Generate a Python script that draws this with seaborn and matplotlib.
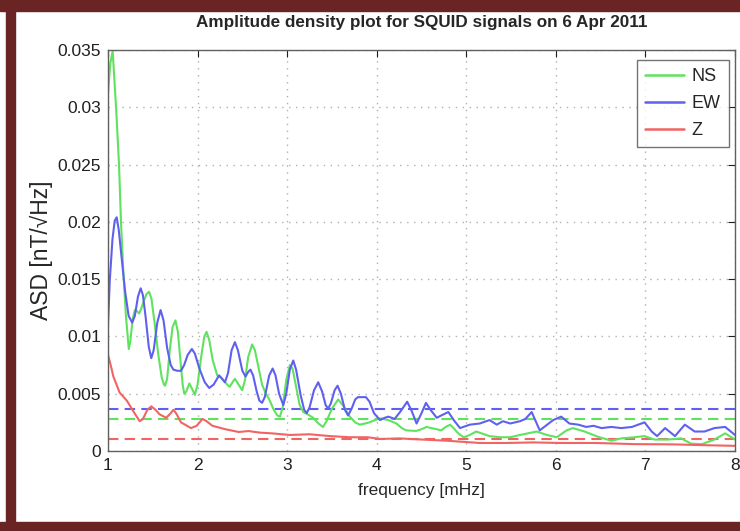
import matplotlib
matplotlib.use("Agg")
import matplotlib.pyplot as plt
import seaborn as sns
import pandas as pd
from matplotlib.patches import Rectangle

# ---------------- data ----------------
ns_f = [1.0, 1.025, 1.052, 1.09, 1.123, 1.145, 1.17, 1.20, 1.232, 1.25,
        1.275, 1.30, 1.325, 1.347, 1.37, 1.40, 1.43, 1.458, 1.485, 1.52,
        1.56, 1.60, 1.625, 1.638, 1.66, 1.69, 1.72, 1.753, 1.78, 1.81,
        1.835, 1.852, 1.875, 1.908, 1.94, 1.97, 2.0, 2.04, 2.075, 2.10,
        2.13, 2.17, 2.22, 2.26, 2.295, 2.33, 2.358, 2.39, 2.417, 2.45,
        2.498, 2.53, 2.565, 2.609, 2.64, 2.68, 2.72, 2.756, 2.80, 2.85,
        2.89, 2.92, 2.95, 2.99, 3.03, 3.06, 3.10, 3.14, 3.18, 3.23,
        3.29, 3.35, 3.40, 3.44, 3.50, 3.57, 3.63, 3.70, 3.76, 3.81,
        3.87, 3.92, 3.98, 4.04, 4.13, 4.22, 4.28, 4.33, 4.44, 4.50,
        4.556, 4.61, 4.67, 4.72, 4.77, 4.82, 4.87, 4.91, 4.97, 5.04,
        5.11, 5.26, 5.38, 5.49, 5.60, 5.785, 5.90, 6.01, 6.12, 6.19,
        6.32, 6.47, 6.62, 6.73, 6.88, 6.99, 7.10, 7.25, 7.40, 7.51,
        7.63, 7.77, 7.89, 8.0]
ns_v = [0.0312, 0.0338, 0.0349, 0.0300, 0.0250, 0.0200, 0.0158, 0.0118, 0.0089, 0.0096,
        0.0115, 0.0123, 0.0122, 0.0120, 0.0124, 0.0131, 0.0137, 0.0139, 0.0133, 0.0112,
        0.0085, 0.0064, 0.0058, 0.0057, 0.0063, 0.0088, 0.0108, 0.0114, 0.0104, 0.0078,
        0.0057, 0.0050, 0.0052, 0.0059, 0.0054, 0.0049, 0.0058, 0.0082, 0.0100, 0.0104,
        0.0097, 0.0079, 0.0066, 0.0064, 0.0061, 0.0058, 0.0056, 0.0060, 0.0063, 0.0059,
        0.0053, 0.0062, 0.0082, 0.0093, 0.0088, 0.0073, 0.0058, 0.0051, 0.0045, 0.0036,
        0.0031, 0.0030, 0.0038, 0.0062, 0.0075, 0.0072, 0.0056, 0.0040, 0.0034, 0.0032,
        0.0029, 0.0024, 0.0021, 0.0026, 0.0037, 0.0045, 0.0039, 0.0030, 0.0025, 0.0023,
        0.0024, 0.0025, 0.0027, 0.00285, 0.0027, 0.0024, 0.0020, 0.0018, 0.00175, 0.0019,
        0.0021, 0.0020, 0.0019, 0.0018, 0.0021, 0.0023, 0.0019, 0.00154, 0.0012, 0.0014,
        0.0017, 0.0013, 0.0012, 0.0012, 0.0014, 0.0017, 0.0014, 0.0012, 0.0018, 0.0020,
        0.0017, 0.00124, 0.0009, 0.0011, 0.0012, 0.0013, 0.0010, 0.0010, 0.0011, 0.00064,
        0.0006, 0.0010, 0.00154, 0.0010]

ew_f = [1.0, 1.02, 1.05, 1.075, 1.097, 1.12, 1.15, 1.19, 1.23, 1.27,
        1.30, 1.335, 1.365, 1.39, 1.42, 1.455, 1.483, 1.51, 1.55, 1.587,
        1.62, 1.66, 1.70, 1.73, 1.775, 1.815, 1.85, 1.89, 1.937, 1.97,
        2.02, 2.08, 2.13, 2.18, 2.24, 2.275, 2.306, 2.34, 2.38, 2.417,
        2.45, 2.50, 2.535, 2.565, 2.59, 2.62, 2.66, 2.69, 2.72, 2.75,
        2.80, 2.838, 2.87, 2.91, 2.957, 2.99, 3.03, 3.068, 3.10, 3.15,
        3.19, 3.218, 3.25, 3.30, 3.347, 3.39, 3.43, 3.459, 3.49, 3.53,
        3.563, 3.60, 3.645, 3.68, 3.72, 3.76, 3.79, 3.85, 3.88, 3.92,
        3.97, 4.036, 4.09, 4.13, 4.20, 4.27, 4.34, 4.39, 4.445, 4.50,
        4.55, 4.60, 4.67, 4.72, 4.80, 4.86, 4.93, 5.04, 5.15, 5.26,
        5.34, 5.41, 5.49, 5.60, 5.66, 5.73, 5.82, 5.97, 6.06, 6.15,
        6.25, 6.34, 6.42, 6.51, 6.62, 6.73, 6.85, 6.99, 7.07, 7.13,
        7.22, 7.33, 7.44, 7.55, 7.66, 7.77, 7.89, 8.0]
ew_v = [0.0110, 0.0149, 0.0185, 0.0201, 0.0204, 0.0193, 0.0170, 0.0140, 0.0118, 0.0112,
        0.0118, 0.0135, 0.0142, 0.0136, 0.0117, 0.0091, 0.0081, 0.0088, 0.0112, 0.0123,
        0.0114, 0.0090, 0.0075, 0.0071, 0.0070, 0.0070, 0.0075, 0.0084, 0.0089, 0.0085,
        0.0072, 0.0060, 0.0055, 0.0058, 0.0066, 0.0063, 0.0060, 0.0068, 0.0088, 0.0095,
        0.0088, 0.0070, 0.0065, 0.0069, 0.0071, 0.0066, 0.0052, 0.0044, 0.0042, 0.0047,
        0.0066, 0.0072, 0.0066, 0.0050, 0.0040, 0.0050, 0.0071, 0.0079, 0.0071, 0.0049,
        0.0036, 0.0033, 0.0038, 0.0053, 0.0060, 0.0052, 0.0040, 0.0037, 0.0042, 0.0053,
        0.0057, 0.0050, 0.0036, 0.0031, 0.0037, 0.0045, 0.0047, 0.0047, 0.0047, 0.0043,
        0.0033, 0.0027, 0.0029, 0.0030, 0.0028, 0.0035, 0.0043, 0.0035, 0.0024, 0.0033,
        0.0042, 0.0036, 0.0029, 0.0031, 0.0034, 0.0027, 0.0020, 0.0023, 0.0024, 0.0027,
        0.0023, 0.0026, 0.0024, 0.0026, 0.0028, 0.0034, 0.0018, 0.0027, 0.0030, 0.0024,
        0.0023, 0.0021, 0.0022, 0.0020, 0.0021, 0.0020, 0.0021, 0.0025, 0.0017, 0.0013,
        0.0020, 0.0013, 0.0023, 0.0017, 0.0017, 0.0020, 0.0021, 0.0014]

z_f = [1.0, 1.03, 1.06, 1.13, 1.21, 1.28, 1.354, 1.39, 1.44, 1.483,
       1.53, 1.576, 1.65, 1.70, 1.73, 1.76, 1.815, 1.926, 1.99, 2.055,
       2.10, 2.166, 2.31, 2.46, 2.57, 2.70, 2.83, 3.03, 3.25, 3.48,
       3.70, 3.90, 4.04, 4.25, 4.45, 4.78, 5.15, 5.45, 5.75, 6.05,
       6.45, 6.88, 7.3, 7.7, 8.0]
z_v = [0.0084, 0.0075, 0.0065, 0.0051, 0.0044, 0.0035, 0.0026, 0.0028, 0.0036, 0.0039,
       0.0036, 0.0032, 0.0029, 0.0033, 0.0036, 0.0033, 0.0025, 0.0020, 0.0022, 0.0028,
       0.0026, 0.0022, 0.0019, 0.00166, 0.00174, 0.0016, 0.00154, 0.0014, 0.00146, 0.0013,
       0.0012, 0.0012, 0.00105, 0.0011, 0.00102, 0.0009, 0.0007, 0.0007, 0.00075, 0.0007,
       0.0007, 0.0006, 0.00058, 0.0005, 0.00045]

series_names = ["NS", "EW", "Z"]
mean_levels = [0.0028, 0.0037, 0.00105]   # dashed horizontal lines (NS, EW, Z)

x_ticks = [1, 2, 3, 4, 5, 6, 7, 8]
y_ticks = [0, 0.005, 0.01, 0.015, 0.02, 0.025, 0.03, 0.035]
y_tick_labels = ["0", "0.005", "0.01", "0.015", "0.02", "0.025", "0.03", "0.035"]

title = "Amplitude density plot for SQUID signals on 6 Apr 2011"
x_label = "frequency [mHz]"
y_label = "ASD [nT/\u221aHz]"

colors = {"NS": "#5fe35f", "EW": "#6060f0", "Z": "#f06464"}

# ---------------- build long table ----------------
frames = []
for name, fs, vs in zip(series_names, [ns_f, ew_f, z_f], [ns_v, ew_v, z_v]):
    frames.append(pd.DataFrame({"freq": fs, "asd": vs, "series": name}))
df = pd.concat(frames, ignore_index=True)

# ---------------- plotting ----------------
sns.set_style("white")
plt.rcParams["font.family"] = ["Liberation Sans", "DejaVu Sans"]

fig = plt.figure(figsize=(7.40, 5.31), dpi=100)
ax = fig.add_axes([108 / 740, 80 / 531, 627 / 740, 401 / 531])

sns.lineplot(data=df, x="freq", y="asd", hue="series", hue_order=series_names,
             palette=colors, estimator=None, sort=False, linewidth=1.5, ax=ax)

for name, lvl in zip(series_names, mean_levels):
    ax.axhline(lvl, color=colors[name], linestyle=(0, (5, 3)), linewidth=1.5, zorder=1)

ax.set_xlim(1, 8)
ax.set_ylim(0, 0.035)
ax.set_xticks(x_ticks)
ax.set_xticklabels([str(t) for t in x_ticks])
ax.set_yticks(y_ticks)
ax.set_yticklabels(y_tick_labels)

ax.grid(True, linestyle=(0, (1, 4)), color="#b0b0b0", linewidth=1.0)
ax.tick_params(direction="in", length=5, width=0.8, top=True, right=True,
               labelsize=12.5, pad=5, colors="#202020")
for s in ax.spines.values():
    s.set_color("#606060")
    s.set_linewidth(1.0)

ax.set_xlabel(x_label, fontsize=12.5, labelpad=7)
ax.set_ylabel(y_label, fontsize=16.5, labelpad=3)
fig.text(422 / 740, 1 - 22 / 531, title, ha="center", va="center",
         fontsize=12.3, fontweight="bold")

leg = ax.legend(loc="upper right", bbox_to_anchor=(0.99, 0.975), borderaxespad=0,
                fontsize=13, frameon=True, fancybox=False, handlelength=2.2,
                handletextpad=0.4, labelspacing=0.55, borderpad=0.45)
leg.get_frame().set_edgecolor("#505050")
leg.get_frame().set_linewidth(1.0)
for line in leg.get_lines():
    line.set_linewidth(1.8)

# maroon frame around the picture
frame_col = "#6b2424"
fig.patches.append(Rectangle((0, 1 - 11 / 531), 1, 11 / 531, transform=fig.transFigure,
                             color=frame_col, zorder=10))
fig.patches.append(Rectangle((6 / 740, 0), 9 / 740, 1, transform=fig.transFigure,
                             color=frame_col, zorder=10))
fig.patches.append(Rectangle((0, 0), 1, 9 / 531, transform=fig.transFigure,
                             color=frame_col, zorder=10))

fig.savefig("out.png", dpi=100)
